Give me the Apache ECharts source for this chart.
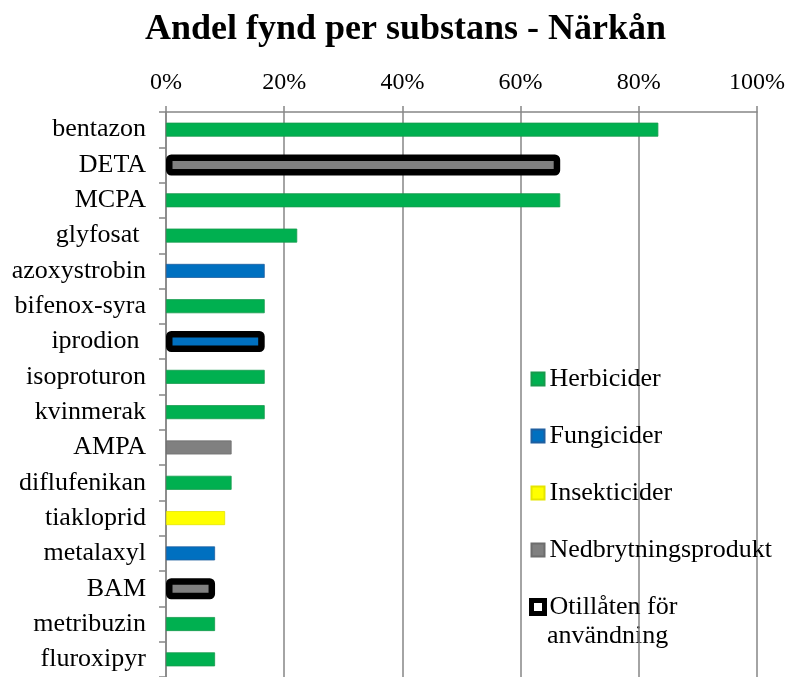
<!DOCTYPE html>
<html lang="sv">
<head>
    <meta charset="UTF-8">
    <title>Andel fynd per substans - Närkån</title>
    <script src="https://cdn.jsdelivr.net/npm/echarts@6/dist/echarts.min.js"></script>
    <style>
        *{margin:0;padding:0;}
        html,body{width:100%;height:100%;overflow:hidden;background:#fff;}
        .container{width:788px;height:677px;}
    </style>
</head>
<body>
<div class="container"></div>
<script>
    // substanser, uppifrån och ned
    const categories = ['bentazon', 'DETA', 'MCPA', 'glyfosat ', 'azoxystrobin', 'bifenox-syra', 'iprodion ',
        'isoproturon', 'kvinmerak', 'AMPA', 'diflufenikan', 'tiakloprid', 'metalaxyl', 'BAM', 'metribuzin', 'fluroxipyr'];
    // andel fynd (%)
    const values = [83.3, 66.7, 66.7, 22.2, 16.7, 16.7, 16.7, 16.7, 16.7, 11.1, 11.1, 10, 8.3, 8.3, 8.3, 8.3];
    const types = ['Herbicider', 'Nedbrytningsprodukt', 'Herbicider', 'Herbicider', 'Fungicider', 'Herbicider', 'Fungicider',
        'Herbicider', 'Herbicider', 'Nedbrytningsprodukt', 'Herbicider', 'Insekticider', 'Fungicider', 'Nedbrytningsprodukt',
        'Herbicider', 'Herbicider'];
    const notApproved = ['DETA', 'iprodion ', 'BAM'];
    const groups = ['Herbicider', 'Fungicider', 'Insekticider', 'Nedbrytningsprodukt'];
    const groupColors = ['#00b050', '#0070c0', '#ffff00', '#808080'];
    const groupBorders = ['#179a4c', '#1f5fa0', '#e5e500', '#6d6d6d'];
    const ticks = [0, 20, 40, 60, 80, 100];
    const naName = 'Otillåten för användning';

    window.onload = function () {
        let chart = echarts.init(document.querySelector('.container'));
        const serif = 'Liberation Serif';
        const grey = '#868686';

        let series = groups.map((g, gi) => ({
            name: g,
            type: 'bar',
            stack: 'total',
            barWidth: 14,
            itemStyle: {color: groupColors[gi], borderColor: groupBorders[gi], borderWidth: 0.8},
            data: values.map((v, i) => (types[i] === g && !notApproved.includes(categories[i])) ? v : '-')
        }));
        // otillåtna substanser: egen (dold) axel så att stapeln kan vara bredare med tjock svart ram
        series.push({
            name: naName,
            type: 'bar',
            xAxisIndex: 1,
            yAxisIndex: 1,
            barWidth: 21,
            itemStyle: {color: '#fff', borderColor: '#000', borderWidth: 6.5, borderRadius: 2},
            data: values.map((v, i) => {
                if (!notApproved.includes(categories[i])) return '-';
                return {value: v, itemStyle: {color: groupColors[groups.indexOf(types[i])]}};
            })
        });

        let options = {
            animation: false,
            backgroundColor: '#fff',
            title: {
                text: 'Andel fynd per substans - Närkån',
                left: 140,
                top: 7,
                textStyle: {fontFamily: serif, fontSize: 36, fontWeight: 'bold', color: '#000'}
            },
            grid: {left: 166, right: 30, top: 112, height: 570, containLabel: false},
            xAxis: [{
                type: 'value',
                position: 'top',
                min: ticks[0],
                max: ticks[ticks.length - 1],
                interval: 20,
                axisLine: {show: true, lineStyle: {color: grey, width: 1.5}},
                axisTick: {show: true, length: 6, lineStyle: {color: grey, width: 1.5}},
                axisLabel: {
                    margin: 17,
                    formatter: '{value}%',
                    fontFamily: serif, fontSize: 24, color: '#000'
                },
                splitLine: {show: true, lineStyle: {color: grey, width: 1.5}}
            }, {
                type: 'value',
                position: 'top',
                min: ticks[0],
                max: ticks[ticks.length - 1],
                show: false
            }],
            yAxis: [{
                type: 'category',
                inverse: true,
                data: categories,
                axisLine: {show: true, lineStyle: {color: grey, width: 1.5}},
                axisTick: {show: true, length: 7, lineStyle: {color: grey, width: 1.5}},
                axisLabel: {margin: 20, fontFamily: serif, fontSize: 26, color: '#000'}
            }, {
                type: 'category',
                inverse: true,
                data: categories,
                show: false
            }],
            legend: {
                orient: 'vertical',
                left: 529,
                top: 366,
                padding: 0,
                itemWidth: 13,
                itemHeight: 13,
                itemGap: 31,
                icon: 'rect',
                data: groups.concat([{name: naName, itemStyle: {color: '#fff', borderColor: '#000', borderWidth: 5}}]),
                formatter: function (name) {
                    return name === naName ? 'Otillåten för' : name;
                },
                textStyle: {fontFamily: serif, fontSize: 26, lineHeight: 26, color: '#000'}
            },
            graphic: [{
                type: 'text',
                left: 547,
                top: 623,
                style: {text: 'användning', font: '26px "Liberation Serif"', fill: '#000'}
            }],
            series
        };
        chart.setOption(options);
    };
</script>
</body>
</html>
